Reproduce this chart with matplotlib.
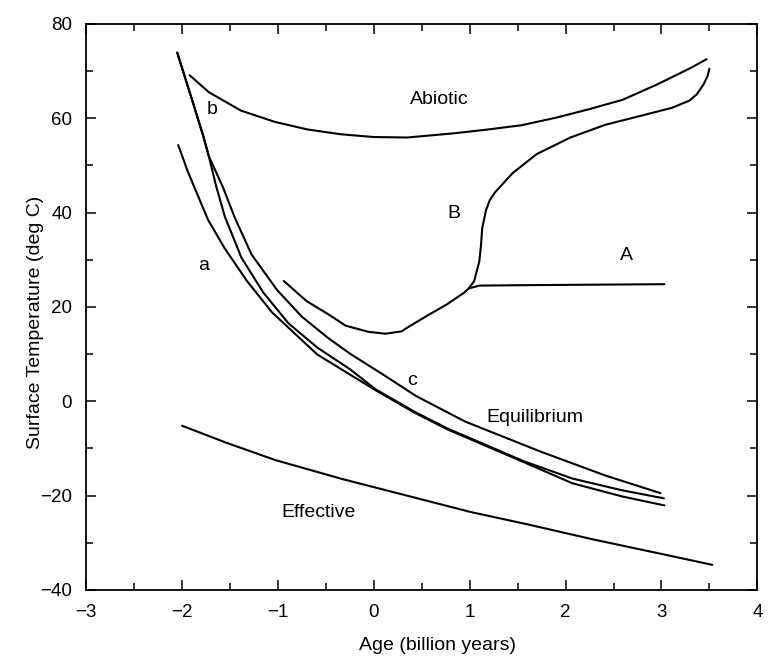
import matplotlib
matplotlib.use("Agg")
import matplotlib.pyplot as plt
from matplotlib.ticker import MultipleLocator

plt.rcParams["font.family"] = ["Liberation Sans", "DejaVu Sans"]

# Curves: age (billion years) vs surface temperature (deg C)
abiotic_x = [-1.92, -1.72, -1.385, -1.03, -0.69, -0.35, 0.0, 0.35, 0.84, 1.19, 1.54, 1.90, 2.245, 2.595, 2.96, 3.31, 3.47]
abiotic_y = [69.1, 65.5, 61.6, 59.2, 57.6, 56.6, 56.0, 55.9, 56.8, 57.6, 58.5, 60.1, 61.9, 63.9, 67.2, 70.7, 72.5]

curve_B_x = [-0.94, -0.70, -0.465, -0.293, -0.055, 0.12, 0.29, 0.365, 0.58, 0.76, 0.935, 0.99, 1.045, 1.10, 1.118,
             1.13, 1.17, 1.209, 1.265, 1.45, 1.70, 2.05, 2.415, 2.765, 3.11, 3.29, 3.37, 3.44, 3.48, 3.50]
curve_B_y = [25.5, 21.2, 18.3, 16.0, 14.7, 14.3, 14.8, 15.8, 18.4, 20.5, 22.9, 23.9, 25.4, 29.6, 33.1,
             36.6, 40.5, 42.6, 44.3, 48.4, 52.4, 55.9, 58.6, 60.4, 62.2, 63.7, 65.1, 67.2, 68.9, 70.5]

curve_A_x = [0.99, 1.10, 1.60, 2.30, 3.03]
curve_A_y = [23.9, 24.5, 24.6, 24.7, 24.8]

curve_a_x = [-2.04, -1.94, -1.73, -1.555, -1.32, -1.06, -0.59, -0.253, 0.02, 0.43, 0.77, 1.56, 2.07, 2.59, 3.03]
curve_a_y = [54.3, 48.7, 38.5, 32.4, 25.4, 18.8, 9.9, 5.7, 2.3, -2.5, -6.0, -12.9, -17.4, -20.2, -22.1]

curve_b_x = [-2.05, -1.878, -1.78, -1.72, -1.643, -1.553, -1.38, -1.155, -0.89, -0.585, -0.25, 0.02, 0.43, 0.77,
             1.56, 2.07, 2.59, 3.025]
curve_b_y = [73.9, 62.75, 56.3, 51.9, 45.5, 39.1, 30.4, 23.1, 16.5, 11.3, 6.8, 2.5, -2.3, -5.8,
             -12.7, -16.4, -18.9, -20.6]

curve_c_x = [-2.05, -1.878, -1.78, -1.72, -1.574, -1.448, -1.275, -1.01, -0.75, -0.477, -0.243, 0.10, 0.44, 0.95,
             1.74, 2.42, 2.99]
curve_c_y = [73.9, 62.75, 56.3, 51.9, 45.4, 38.8, 31.1, 23.6, 17.9, 13.4, 10.0, 5.6, 1.1, -4.3,
             -10.7, -15.8, -19.5]

effective_x = [-2.00, -1.54, -1.025, -0.33, 0.36, 1.01, 1.60, 2.285, 2.98, 3.53]
effective_y = [-5.2, -8.8, -12.5, -16.5, -20.1, -23.5, -26.1, -29.3, -32.3, -34.7]

labels = ["Abiotic", "b", "B", "A", "a", "c", "Equilibrium", "Effective"]
label_x = [0.68, -1.69, 0.83, 2.63, -1.77, 0.40, 1.68, -0.58]
label_y = [64.0, 61.9, 39.8, 30.8, 28.8, 4.3, -3.5, -23.5]

fig = plt.figure(figsize=(7.76, 6.62), dpi=100)
ax = fig.add_axes([0.111, 0.109, 0.865, 0.855])

curves = [(abiotic_x, abiotic_y), (curve_B_x, curve_B_y), (curve_A_x, curve_A_y),
          (curve_a_x, curve_a_y), (curve_b_x, curve_b_y), (curve_c_x, curve_c_y),
          (effective_x, effective_y)]
for xs, ys in curves:
    ax.plot(xs, ys, color="black", lw=1.5, solid_capstyle="round", solid_joinstyle="round")

for txt, tx, ty in zip(labels, label_x, label_y):
    ax.text(tx, ty, txt, fontsize=14, ha="center", va="center")

ax.set_xlim(-3, 4)
ax.set_ylim(-40, 80)
ax.xaxis.set_major_locator(MultipleLocator(1))
ax.xaxis.set_minor_locator(MultipleLocator(0.5))
ax.yaxis.set_major_locator(MultipleLocator(20))
ax.yaxis.set_minor_locator(MultipleLocator(10))
ax.tick_params(which="both", direction="in", top=True, right=True, width=1.1, labelsize=13.5)
ax.tick_params(which="major", length=7, pad=10)
ax.tick_params(which="minor", length=5)
for sp in ax.spines.values():
    sp.set_linewidth(1.3)

ax.set_xlabel("Age (billion years)", fontsize=14)
ax.set_ylabel("Surface Temperature (deg C)", fontsize=14)
ax.xaxis.set_label_coords(0.523, -0.083)
ax.yaxis.set_label_coords(-0.063, 0.473)

fig.savefig("out.png", dpi=100)
